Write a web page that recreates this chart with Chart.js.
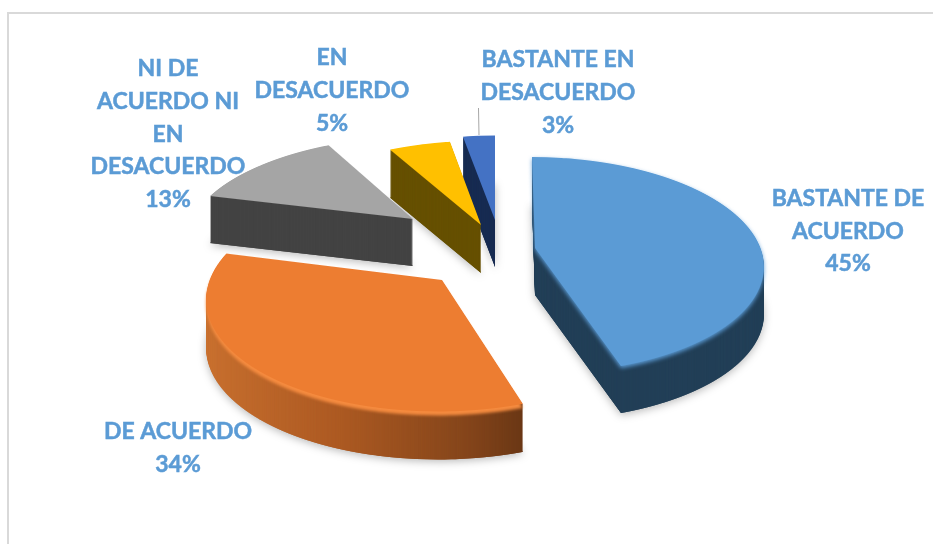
<!DOCTYPE html>
<html>
<head>
<meta charset="utf-8">
<style>
  html, body { margin: 0; padding: 0; background: #fff; }
  canvas { display: block; }
</style>
<script src="https://cdn.jsdelivr.net/npm/chart.js@4"></script>
</head>
<body>
<canvas id="pie3d" width="933" height="544"></canvas>
<script>
'use strict'
const categories = [
  ['BASTANTE DE', 'ACUERDO'],
  ['DE ACUERDO'],
  ['NI DE', 'ACUERDO NI', 'EN', 'DESACUERDO'],
  ['EN', 'DESACUERDO'],
  ['BASTANTE EN', 'DESACUERDO']
]
const percentages = [45, 34, 13, 5, 3]
const faceColors = ['#5B9BD5', '#ED7D31', '#A5A5A5', '#FFC000', '#4472C4']
const wallColors = ['#223F57', null, '#434343', '#665000', '#182C52']

// where each exploded slice sits, in page pixels, and how big it looks
const apexX = [535, 442, 413, 481, 495]
const apexY = [248, 280, 219, 225, 220]
const sizeX = [0.98, 1.01, 0.96, 0.99, 0.86]
const sizeY = [1.01, 1.06, 0.92, 0.94, 0.94]
const skew = [0.033, -0.03, -0.12, -0.07, 0]
const depth = [47, 48, 47, 48, 47]
const drawOrder = [4, 3, 2, 0, 1]

const labelX = [848, 178, 168, 332, 558]
const labelY = [198.5, 431.5, 69, 58, 60]
const lineHeight = 32.6

// perspective of the tilted disc
const radiusX = 230
const radiusY = 104.3
const tilt = 0.159

const W = 933
const H = 544

const toDisc = t => t / (1 + tilt * t)

// draws one arc of the chart on its own layer, row by row, through the perspective
function warpedLayer (arc, i, color) {
  const layer = document.createElement('canvas')
  layer.width = W
  layer.height = H
  const ctx = layer.getContext('2d')
  const rx = radiusX * sizeX[i]
  const ry = radiusY * sizeY[i]
  const r0 = arc.outerRadius
  const saved = arc.options
  arc.options = {
    backgroundColor: color,
    borderColor: 'transparent',
    borderWidth: 0,
    borderAlign: 'center',
    borderRadius: 0,
    offset: 0,
    spacing: 0,
    circular: true
  }
  const first = Math.floor(apexY[i] - ry / (1 + tilt)) - 2
  const last = Math.ceil(apexY[i] + ry / (1 - tilt)) + 2
  for (let y = first; y < last; y++) {
    const s0 = toDisc((y - apexY[i]) / ry)
    const s1 = toDisc((y + 1 - apexY[i]) / ry)
    const a = rx / ((1 - tilt * (s0 + s1) / 2) * r0)
    const e = 1 / ((s1 - s0) * r0)
    const shift = skew[i] * (y + 0.5 - apexY[i])
    ctx.save()
    ctx.beginPath()
    ctx.rect(0, y, W, 1)
    ctx.clip()
    ctx.setTransform(a, 0, 0, e, apexX[i] + shift - a * arc.x, y - e * (arc.y + s0 * r0))
    arc.draw(ctx)
    ctx.restore()
  }
  arc.options = saved
  return layer
}

const pie3d = {
  id: 'pie3d',
  beforeDatasetsDraw (chart) {
    const ctx = chart.ctx
    const arcs = chart.getDatasetMeta(0).data
    drawOrder.forEach(i => {
      const arc = arcs[i]
      let wall = wallColors[i]
      if (!wall) {
        wall = ctx.createLinearGradient(arc.x - arc.outerRadius, 0, arc.x + arc.outerRadius * 0.4, 0)
        wall.addColorStop(0, '#CB7230')
        wall.addColorStop(0.45, '#AD5A22')
        wall.addColorStop(0.8, '#83441A')
        wall.addColorStop(1, '#5E3112')
      }
      const wallLayer = warpedLayer(arc, i, wall)
      const faceLayer = warpedLayer(arc, i, faceColors[i])
      // soft shadow under the slice
      ctx.save()
      ctx.shadowColor = 'rgba(0,0,0,0.28)'
      ctx.shadowBlur = 9
      ctx.shadowOffsetY = 2
      ctx.drawImage(wallLayer, 0, depth[i])
      ctx.restore()
      for (let d = depth[i]; d > 0; d--) ctx.drawImage(wallLayer, 0, d)
      // rounded rim of the two big slices
      if (i === 1) {
        ctx.save()
        ctx.filter = 'blur(1.5px)'
        ctx.drawImage(warpedLayer(arc, i, '#F58B3F'), 0, 4)
        ctx.restore()
      } else if (i === 0) {
        ctx.save()
        ctx.filter = 'blur(2px)'
        ctx.drawImage(faceLayer, 0, 2)
        ctx.restore()
      }
      ctx.drawImage(faceLayer, 0, 0)
    })
    return false
  },
  afterDraw (chart) {
    const ctx = chart.ctx
    ctx.save()
    // frame of the chart area
    ctx.fillStyle = '#D9D9D9'
    ctx.fillRect(7, 12, W - 7, 2)
    ctx.fillRect(7, 12, 2, H - 12)
    // leader line
    ctx.strokeStyle = '#A6A6A6'
    ctx.lineWidth = 1
    ctx.beginPath()
    ctx.moveTo(478.5, 108)
    ctx.lineTo(479, 135)
    ctx.stroke()
    ctx.fillStyle = '#5B9BD5'
    ctx.strokeStyle = '#5B9BD5'
    ctx.lineWidth = 0.5
    ctx.font = 'bold 23px Lato'
    ctx.textAlign = 'center'
    ctx.textBaseline = 'middle'
    categories.forEach((lines, i) => {
      const all = lines.concat(percentages[i] + '%')
      all.forEach((t, n) => {
        ctx.fillText(t, labelX[i], labelY[i] + n * lineHeight)
        ctx.strokeText(t, labelX[i], labelY[i] + n * lineHeight)
      })
    })
    ctx.restore()
  }
}

const chart = new Chart(document.getElementById('pie3d').getContext('2d'), {
  type: 'pie',
  data: {
    labels: categories,
    datasets: [{
      data: percentages,
      backgroundColor: faceColors,
      borderWidth: 0
    }]
  },
  options: {
    responsive: false,
    animation: false,
    events: [],
    plugins: {
      legend: { display: false },
      tooltip: { enabled: false }
    }
  },
  plugins: [pie3d]
})
</script>
</body>
</html>
